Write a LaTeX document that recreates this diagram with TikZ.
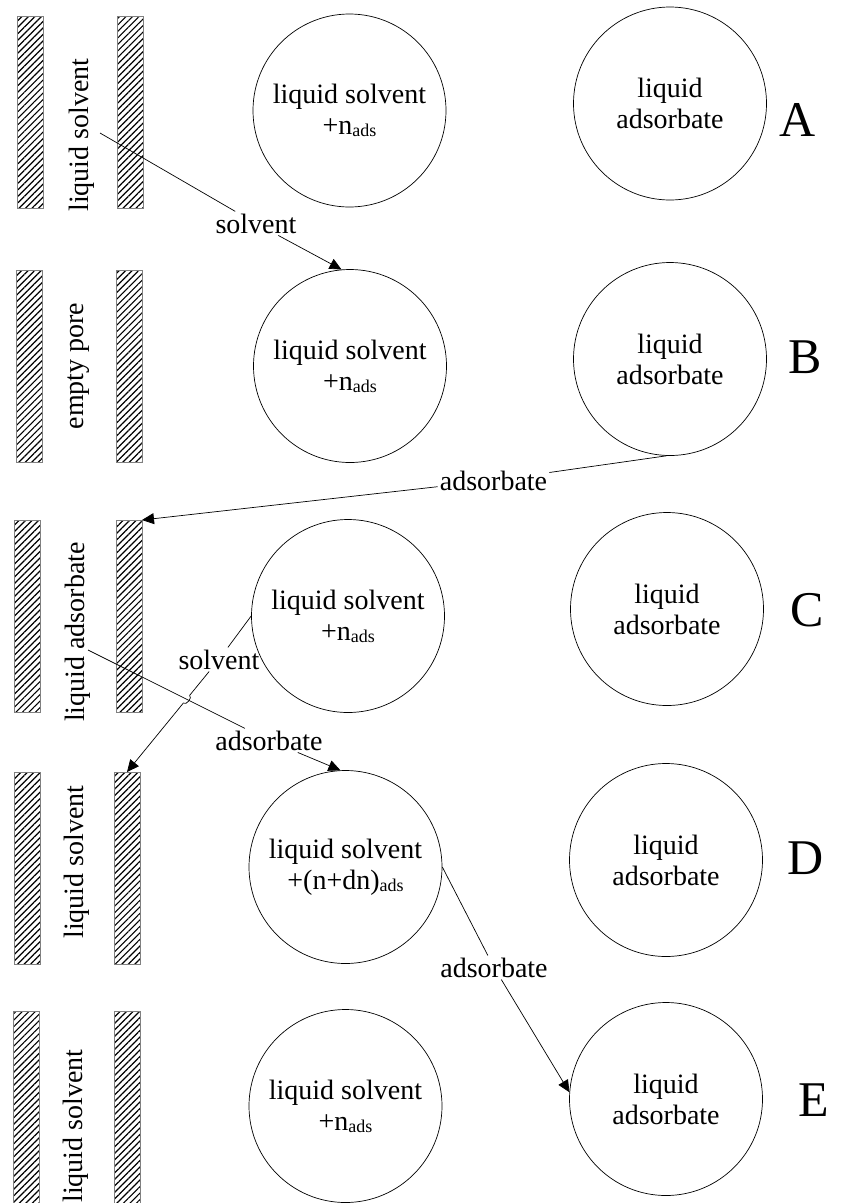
\documentclass[tikz,border=0pt]{standalone}
\usepackage{fontspec}
\setmainfont{Liberation Serif}
\usetikzlibrary{arrows.meta,patterns.meta,calc,intersections}
\newcommand\adsub{\raisebox{-2pt}{\fontsize{18}{18}\selectfont ads}}
\begin{document}
\begin{tikzpicture}[x=1pt,y=-1pt,
  bar/.style={draw=gray, line width=0.6pt, pattern={Lines[angle=45,distance=4.6pt,line width=1.2pt]},
    minimum width=26pt, minimum height=192pt, inner sep=0pt, outer sep=0pt},
  blob/.style={circle, draw, line width=0.7pt, minimum size=193pt, inner sep=0pt, align=center,
    font=\fontsize{28}{31}\selectfont},
  lbl/.style={font=\fontsize{28}{31}\selectfont, inner sep=2pt},
  pore/.style={rotate=90, font=\fontsize{28}{31}\selectfont, inner sep=0pt},
  tag/.style={font=\fontsize{50}{50}\selectfont},
  conn/.style={line width=0.7pt},
  arr/.style={conn, -{Triangle[length=12pt,width=11pt]}}]
\fill[white] (0,0) rectangle (843,1203);
\useasboundingbox (0,0) rectangle (843,1203);
% bars
\node[bar] (Abl) at (30,112) {}; \node[bar] (Abr) at (130,112) {};
\node[bar] (Bbl) at (29,366) {}; \node[bar] (Bbr) at (129,366) {};
\node[bar] (Cbl) at (27,616) {}; \node[bar] (Cbr) at (129,616) {};
\node[bar] (Dbl) at (27,868) {}; \node[bar] (Dbr) at (127,868) {};
\node[bar] (Ebl) at (26,1107) {}; \node[bar] (Ebr) at (127,1107) {};
% pore texts
\node[pore] (Ap) at (82,135) {liquid solvent};
\node[pore] (Bp) at (79,366) {empty pore};
\node[pore] (Cp) at (78,632) {liquid adsorbate};
\node[pore] (Dp) at (77,862) {liquid solvent};
\node[pore] (Ep) at (76,1126) {liquid solvent};
% circles
\node[blob] (Al) at (349.5,110.5) {liquid solvent\\+n\adsub};
\node[blob] (Ar) at (670,103.5) {liquid\\adsorbate};
\node[blob] (Bl) at (350,366) {liquid solvent\\+n\adsub};
\node[blob] (Br) at (670,359) {liquid\\adsorbate};
\node[blob] (Cl) at (348,616) {liquid solvent\\+n\adsub};
\node[blob] (Cr) at (667,609) {liquid\\adsorbate};
\node[blob] (Dl) at (345.5,867) {liquid solvent\\+(n+dn)\adsub};
\node[blob] (Dr) at (666,860) {liquid\\adsorbate};
\node[blob] (El) at (345.5,1106) {liquid solvent\\+n\adsub};
\node[blob] (Er) at (666,1099) {liquid\\adsorbate};
% tags
\node[tag] (tA) at (798,120) {A};
\node[tag] (tB) at (805,357) {B};
\node[tag] (tC) at (807,610) {C};
\node[tag] (tD) at (806,858) {D};
\node[tag] (tE) at (814,1100) {E};
% A -> B solvent
\coordinate (sA) at (100,133);
\node[lbl, anchor=base] (lsA) at (256,233) {solvent};
\draw[conn] (sA) -- (lsA);
\draw[arr] (lsA) -- (Bl.95);
% B -> C adsorbate
\node[lbl, anchor=base] (laB) at (493.5,490) {adsorbate};
\draw[conn] (Br.268) -- (laB);
\draw[arr] (laB) -- (Cbr.north east);
% C -> D adsorbate
\coordinate (sC) at (88,650);
\node[lbl, anchor=base] (laC) at (269,750) {adsorbate};
\draw[conn, name path=adsC] (sC) -- (laC);
\draw[arr] (laC) -- (Dl.93);
% C -> D solvent with hop
\node[lbl, anchor=base] (lsC) at (219,669) {solvent};
\draw[conn] (Cl.180) -- (lsC);
\path[name path=solvC] (lsC) -- (Dbr.north);
\path[name intersections={of=adsC and solvC, by=X}];
\draw[arr] (lsC) -- ($(X)!5pt!(lsC)$) to[bend left=90] ($(X)!5pt!(Dbr.north)$) -- (Dbr.north);
% D -> E adsorbate
\node[lbl, anchor=base] (laD) at (494,977) {adsorbate};
\draw[conn] (Dl.east) -- (laD);
\draw[arr] (laD) -- (Er.176);
\end{tikzpicture}
\end{document}
